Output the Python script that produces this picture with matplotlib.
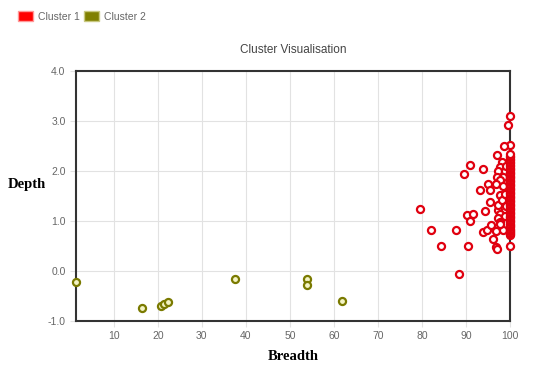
import matplotlib
matplotlib.use("Agg")
import matplotlib.pyplot as plt
from matplotlib.patches import Patch
from matplotlib.ticker import FormatStrFormatter

# Cluster 2 (olive) points
c2_x = [1.4, 16.5, 20.6, 21.4, 22.2, 37.5, 53.9, 53.9, 61.8]
c2_y = [-0.21, -0.73, -0.69, -0.65, -0.61, -0.15, -0.15, -0.27, -0.60]

# Cluster 1 (red) points, scattered part
c1_x = [100, 99.6, 100, 98.7, 97.1, 91.0, 89.5, 93.9, 98.1, 97.7, 97.2,
        98.8, 98.5, 97.0, 97.7, 95.0, 96.8, 95.4, 93.1, 97.7, 95.4, 94.3,
        97.3, 97.7, 97.3, 97.7, 90.3, 91.6, 91.0, 87.8, 93.9, 94.7, 95.6,
        96.8, 98.5, 100, 96.2, 96.8, 97.1, 90.5, 100, 79.6, 82.1, 84.4,
        88.5, 97.3, 98.1, 97.7, 98.5, 99.0, 98.8, 99.2, 98.9]
c1_y = [3.10, 2.92, 2.53, 2.51, 2.32, 2.13, 1.95, 2.04, 2.19, 2.09, 2.00,
        2.00, 1.89, 1.89, 1.82, 1.74, 1.75, 1.62, 1.62, 1.52, 1.39, 1.21,
        1.22, 1.15, 1.07, 0.99, 1.12, 1.15, 1.01, 0.83, 0.79, 0.83, 0.92,
        0.81, 0.83, 0.79, 0.65, 0.49, 0.44, 0.51, 0.50, 1.25, 0.83, 0.51,
        -0.05, 1.33, 1.42, 0.95, 1.70, 1.30, 1.10, 2.10, 1.55]

# Cluster 1 dense column at breadth = 100
col_y = [0.72, 0.75, 0.77, 0.80, 0.82, 0.85, 0.88, 0.90, 0.93, 0.95, 0.98,
         1.01, 1.03, 1.06, 1.09, 1.11, 1.14, 1.16, 1.19, 1.22, 1.25, 1.27,
         1.30, 1.33, 1.35, 1.38, 1.40, 1.43, 1.46, 1.49, 1.51, 1.54, 1.56,
         1.59, 1.62, 1.64, 1.67, 1.70, 1.72, 1.75, 1.78, 1.80, 1.83, 1.86,
         1.88, 1.91, 1.94, 1.96, 1.99, 2.02, 2.05, 2.07, 2.10, 2.13, 2.16,
         2.19, 2.22, 2.25, 2.28, 2.31, 2.34]
col_x = [100] * len(col_y)

x_ticks = [10, 20, 30, 40, 50, 60, 70, 80, 90, 100]
y_ticks = [-1.0, 0.0, 1.0, 2.0, 3.0, 4.0]

plt.rcParams['font.family'] = ['Liberation Sans', 'DejaVu Sans']

fig = plt.figure(figsize=(5.4, 3.81), dpi=100)
ax = fig.add_axes([76 / 540, 60 / 381, 434 / 540, 250 / 381])

red = '#e0000f'
ax.scatter(c2_x, c2_y, s=26, facecolor='#f4f4c4', edgecolor='#7a7a00',
           linewidth=1.6, clip_on=False, zorder=3)
ax.scatter(c1_x, c1_y, s=26, facecolor='white', edgecolor=red,
           linewidth=1.6, clip_on=False, zorder=4)
ax.scatter(col_x, col_y, s=26, facecolor='white', edgecolor=red,
           linewidth=1.6, clip_on=False, zorder=4)

ax.set_xlim(1.4, 100)
ax.set_ylim(-1.0, 4.0)
ax.set_xticks(x_ticks)
ax.set_yticks(y_ticks)
ax.yaxis.set_major_formatter(FormatStrFormatter('%.1f'))
ax.grid(True, color='#e2e2e2', linewidth=0.8)
ax.set_axisbelow(True)
ax.tick_params(colors='#e2e2e2', labelcolor='#666666', labelsize=7.5, length=4, width=0.8)

for sp in ax.spines.values():
    sp.set_color('#333333')
    sp.set_linewidth(1.5)

ax.set_title('Cluster Visualisation', fontsize=8.5, color='#444444', pad=13)

fig.text(8 / 540, 1 - 185 / 381, 'Depth', family='Liberation Serif',
         fontweight='bold', fontsize=10.5, ha='left', va='center')
fig.text(293 / 540, 1 - 356 / 381, 'Breadth', family='Liberation Serif',
         fontweight='bold', fontsize=10.5, ha='center', va='center')

handles = [Patch(facecolor='#ff0000', edgecolor='#ff9999', label='Cluster 1'),
           Patch(facecolor='#808000', edgecolor='#c8c880', label='Cluster 2')]
fig.legend(handles=handles, loc='upper left', bbox_to_anchor=(0.0163, 0.995),
           ncol=2, frameon=False, fontsize=7.5, labelcolor='#666666',
           handlelength=1.44, handleheight=1.1, handletextpad=0.48,
           columnspacing=0.38)

fig.savefig('out.png', dpi=100)
